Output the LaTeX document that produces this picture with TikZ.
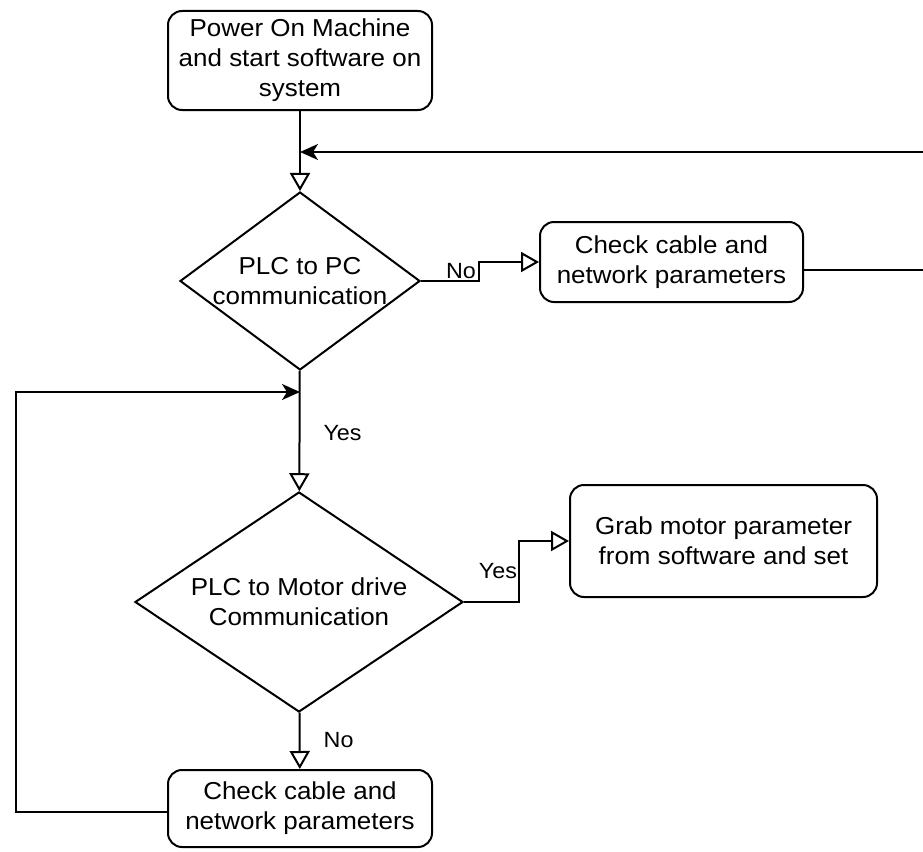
\documentclass[tikz,border=0pt]{standalone}
\usepackage{fontspec}
\setmainfont[FakeStretch=1.06]{Liberation Sans}
\usetikzlibrary{arrows.meta,shapes.geometric}
\tikzset{
  every node/.style={font=\fontsize{24.5}{30}\selectfont},
  stepbox/.style={draw, rounded corners=14pt, line width=2pt,
    align=center, inner sep=0pt},
  decision/.style={diamond, draw, line width=2pt, align=center,
    inner sep=0pt},
  lbl/.style={font=\fontsize{22}{26}\selectfont, inner sep=1pt},
  flow/.style={line width=2pt, -{Triangle[open, length=18pt, width=20pt]}},
  back/.style={line width=2pt, -{Stealth[length=18pt, width=16pt, inset=5pt]}}
}

\begin{document}
\begin{tikzpicture}[x=1pt, y=1pt]
  \useasboundingbox (0,0) rectangle (923,-851);

  % steps and decisions
  \node[stepbox, minimum width=264pt, minimum height=99pt] (power)
    at (300,-60.5) {Power On Machine\\and start software on\\system};
  \node[decision, minimum width=240pt, minimum height=178pt, aspect=1.35]
    (pcComm) at (300,-281) {PLC to PC\\communication};
  \node[stepbox, minimum width=263pt, minimum height=80pt] (checkPC)
    at (671.5,-262) {Check cable and\\network parameters};
  \node[decision, minimum width=328pt, minimum height=220pt, aspect=1.49]
    (driveComm) at (299,-602) {PLC to Motor drive\\Communication};
  \node[stepbox, minimum width=307pt, minimum height=112pt] (grab)
    at (723.5,-541) {Grab motor parameter\\from software and set};
  \node[stepbox, minimum width=264pt, minimum height=77pt] (checkDrive)
    at (300,-808.5) {Check cable and\\network parameters};

  % where the loops come back in
  \coordinate (join1) at (300,-152);
  \coordinate (join2) at (300,-392);
  \coordinate (loopR) at (940,-152);
  \coordinate (loopL) at (16,-392);

  % main flow
  \draw[flow] (power) -- (pcComm);
  \draw[flow] (pcComm.east) -- node[lbl, above, pos=.69] {No} ++(58,0)
    |- (checkPC.west);
  \draw[flow] (pcComm) -- node[lbl, right=22pt, pos=.52] {Yes} (driveComm);
  \draw[flow] (driveComm.east) -- ++(55,0)
    |- node[lbl, left, pos=.25] {Yes} (grab.west);
  \draw[flow] (driveComm) -- node[lbl, right=22pt, pos=.48] {No} (checkDrive);

  % retry loops
  \draw[back] ([yshift=-8pt]checkPC.east) -| (loopR) -- (join1);
  \draw[back] ([yshift=-3pt]checkDrive.west) -| (loopL) -- (join2);
\end{tikzpicture}
\end{document}
